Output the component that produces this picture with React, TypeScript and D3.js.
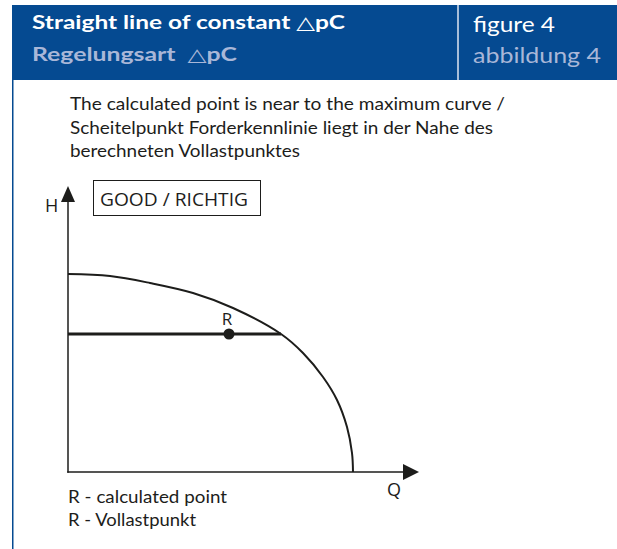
import React from "react";
import * as d3 from "d3";

// pump curve (max curve)
const flowValues = [0, 42, 82, 125, 165, 213, 235, 255, 269, 279, 284, 285];
const headValues = [198, 196, 189, 179, 164, 138, 119, 95, 72, 45, 19, 0];

// straight line of constant dpC and the calculated point R
const constHead = 138;
const constFlowEnd = 213;
const pointR = { q: 161, h: 138, label: "R" };

const axisMax = { q: 351, h: 286 };

const titleLines = ["Straight line of constant \u25B3pC", "Regelungsart \u00A0\u25B3pC"];
const figureLines = ["figure 4", "abbildung 4"];
const noteLines = [
  "The calculated point is near to the maximum curve /",
  "Scheitelpunkt Forderkennlinie liegt in der Nahe des",
  "berechneten Vollastpunktes",
];
const legendLines = ["R - calculated point", "R - Vollastpunkt"];
const badge = "GOOD / RICHTIG";

const W = 617;
const H = 549;
const blue = "#054a91";
const pale = "#a9b7d8";
const ink = "#1d1d1b";

const x = d3.scaleLinear().domain([0, 350]).range([68, 418]);
const y = d3.scaleLinear().domain([0, 287]).range([472, 185]);

const curvePts: [number, number][] = flowValues.map((q, i) => [q, headValues[i]]);
const curve = d3
  .line<[number, number]>()
  .x((d) => x(d[0]))
  .y((d) => y(d[1]))
  .curve(d3.curveCatmullRom.alpha(0.5));

export default function App() {
  const x0 = x(0);
  const y0 = y(0);
  const yTop = y(axisMax.h);
  const xEnd = x(axisMax.q);

  return (
    <svg
      width={W}
      height={H}
      style={{ position: "absolute", left: 0, top: 0, background: "#fff" }}
    >
      {/* header band */}
      <rect x={12} y={5} width={W - 12} height={75} fill={blue} />
      <line x1={458} x2={458} y1={5} y2={80} stroke="#dfe6f2" strokeWidth={1.5} />
      <line x1={12.75} x2={12.75} y1={80} y2={H} stroke={blue} strokeWidth={1.5} />

      <g fontFamily="Lato, 'DejaVu Sans', sans-serif" fontWeight="bold" fontSize={18}>
        <text x={32} y={29} fill="#fff" textLength={313} lengthAdjust="spacingAndGlyphs">
          {titleLines[0]}
        </text>
        <text x={32} y={61} fill={pale} textLength={205} lengthAdjust="spacingAndGlyphs">
          {titleLines[1]}
        </text>
      </g>
      <g fontFamily="Lato, 'DejaVu Sans', sans-serif" fontSize={21}>
        <text x={473} y={32} fill="#fff" textLength={82} lengthAdjust="spacingAndGlyphs">
          {figureLines[0]}
        </text>
        <text x={473} y={63} fill={pale} textLength={128} lengthAdjust="spacingAndGlyphs">
          {figureLines[1]}
        </text>
      </g>

      {/* explanatory note */}
      <g fontFamily="Lato, 'DejaVu Sans', sans-serif" fontSize={16.5} fill={ink}>
        <text x={70} y={110} textLength={435} lengthAdjust="spacingAndGlyphs">{noteLines[0]}</text>
        <text x={70} y={133.5} textLength={423} lengthAdjust="spacingAndGlyphs">{noteLines[1]}</text>
        <text x={70} y={157} textLength={230} lengthAdjust="spacingAndGlyphs">{noteLines[2]}</text>
      </g>

      {/* badge */}
      <rect x={93.5} y={180.5} width={167} height={35} fill="none" stroke={ink} strokeWidth={1} />
      <text
        x={100}
        y={206}
        fontFamily="'Open Sans', sans-serif"
        fontSize={18}
        fill={ink}
        textLength={148}
        lengthAdjust="spacingAndGlyphs"
      >
        {badge}
      </text>

      {/* axes */}
      <g stroke={ink} strokeWidth={1.5} fill="none">
        <line x1={x0} x2={x0} y1={y0 + 0.75} y2={yTop + 14} />
        <line x1={x0 - 0.75} x2={xEnd - 14} y1={y0} y2={y0} />
      </g>
      <path
        d={`M${x0},${yTop} L${x0 + 7},${yTop + 16} L${x0 - 7},${yTop + 16} Z`}
        fill={ink}
      />
      <path
        d={`M${xEnd},${y0} L${xEnd - 16},${y0 - 8} L${xEnd - 16},${y0 + 8} Z`}
        fill={ink}
      />
      <g fontFamily="'Open Sans', sans-serif" fontSize={18} fill={ink}>
        <text x={45} y={212}>H</text>
        <text x={387} y={496}>Q</text>
      </g>

      {/* max curve */}
      <path d={curve(curvePts) ?? ""} fill="none" stroke={ink} strokeWidth={2} />

      {/* constant dpC line */}
      <line
        x1={x(0)}
        x2={x(constFlowEnd)}
        y1={y(constHead)}
        y2={y(constHead)}
        stroke={ink}
        strokeWidth={3}
      />
      <circle cx={x(pointR.q)} cy={y(pointR.h)} r={5.5} fill={ink} />
      <text
        x={x(pointR.q) - 2}
        y={y(pointR.h) - 9}
        textAnchor="middle"
        fontFamily="'Open Sans', sans-serif"
        fontSize={17}
        fill={ink}
      >
        {pointR.label}
      </text>

      {/* legend */}
      <g fontFamily="Lato, 'DejaVu Sans', sans-serif" fontSize={16.5} fill={ink}>
        <text x={68} y={503} textLength={159} lengthAdjust="spacingAndGlyphs">{legendLines[0]}</text>
        <text x={68} y={526} textLength={128} lengthAdjust="spacingAndGlyphs">{legendLines[1]}</text>
      </g>
    </svg>
  );
}
